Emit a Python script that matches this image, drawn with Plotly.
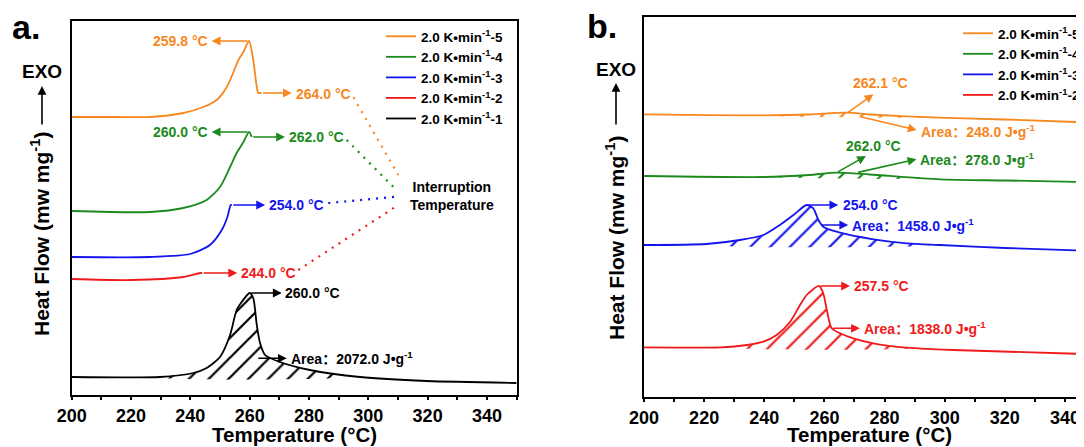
import numpy as np
import plotly.graph_objects as go

FONT = "Liberation Sans, Noto Sans CJK SC, Arial, sans-serif"
C5, C4, C3, C2, C1 = "#F7871E", "#1C8A1C", "#1414EE", "#F01A1A", "#000000"
NAMES = ["2.0 K•min<sup>-1</sup>-5", "2.0 K•min<sup>-1</sup>-4", "2.0 K•min<sup>-1</sup>-3",
         "2.0 K•min<sup>-1</sup>-2", "2.0 K•min<sup>-1</sup>-1"]
XTITLE = "Temperature (°C)"
YTITLE = "Heat Flow (mw mg<sup>-1</sup>)"

# ---------------- panel a (temperature °C, heat flow in arbitrary offset units) -------------
T5a = [200, 215, 226.4, 237.6, 244.4, 248.9, 252.3, 255.1, 256.2, 257.9, 259.8, 261.2, 262.4, 262.9, 264.0]
H5a = [278, 278, 278, 282, 288, 295, 308, 327, 335, 343, 354, 335, 308, 302, 302]
T4a = [200, 226.4, 237.6, 245.5, 250.0, 253.4, 255.6, 257.9, 259.8, 260.7]
H4a = [184, 183, 187, 195, 208, 228, 242, 253, 263, 258]
T3a = [200, 226.4, 239.9, 246.6, 250.6, 252.5, 253.6, 254.0]
H3a = [138, 138, 141, 150, 165, 178, 190, 190]
T2a = [200, 220, 237.6, 243.3, 244.0]
H2a = [116, 115, 118, 122, 122]
T1a = [200, 229.8, 241.0, 245.5, 250.0, 253.4, 255.6, 257.3, 260.0, 261.2, 262.4, 263.5, 265.2,
       270.2, 280.3, 297.2, 319.7, 350]
H1a = [18, 18, 22, 27, 38, 60, 85, 93, 102, 97, 70, 52, 40, 33, 25, 18, 14, 12]
HATCH1a = (232, 16.7, 292, 17.7)   # baseline start T, level, end T, level

# ---------------- panel b ----------------
T5b = [200, 240, 255, 267.4, 275, 298.4, 320, 346.3]
H5b = [282.7, 281.7, 282.5, 284.3, 282.5, 279.3, 277.5, 274.7]
T4b = [200, 240, 255, 264, 275, 298.4, 320, 346.3]
H4b = [221, 220, 222, 224.3, 222.5, 217.7, 216.5, 215]
T3b = [200, 220.8, 231.9, 239.7, 245.2, 249.7, 254.1, 256.3, 258, 259.6, 265.2, 276.3, 287.4, 298.4, 320, 346.3]
H3b = [152, 153, 157, 162, 172, 182, 192, 188.7, 177, 170.3, 164.3, 157.7, 153.7, 152, 149, 146.3]
T2b = [200, 225.3, 234.2, 239.7, 244.1, 248.6, 251.9, 254.1, 258.2, 259.6, 260.8, 262.4, 265.2, 269.6,
       276.3, 286.2, 302.9, 346.3]
H2b = [49.7, 49.7, 52, 55.3, 62, 75.3, 92, 102, 111, 103.7, 87, 68.7, 63.7, 58.7, 53.7, 49.7, 47, 43]
HATCH5b = (240, 281, 296, 279.5)
HATCH4b = (239.6, 219.8, 292, 218.5)
HATCH3b = (225, 151.5, 295, 151.5)
HATCH2b = (231, 49, 288, 48.5)

# labels: (tail T, tail level, head T, head level, text, text T, text level, anchor, colour)
LAB_A = [
    (259.8, 354, 247.2, 354, "259.8 °C", 246.6, 354, "right", C5),
    (264.0, 302, 274.2, 302, "264.0 °C", 275.0, 301, "left", C5),
    (259.8, 263, 247.2, 263, "260.0 °C", 246.6, 263, "right", C4),
    (260.7, 258, 271.9, 258, "262.0 °C", 272.6, 258, "left", C4),
    (254.0, 190, 265.2, 190, "254.0 °C", 265.8, 190, "left", C3),
    (244.0, 122, 255.8, 122, "244.0 °C", 256.4, 122, "left", C2),
    (260.0, 102, 270.8, 102, "260.0 °C", 271.4, 102, "left", C1),
    (262.4, 36.7, 272.5, 36.7, "Area：2072.0 J•g<sup>-1</sup>", 273.2, 37.5, "left", C1),
]
LAB_B = [
    (267.4, 283.5, 276.3, 302.7, "262.1 °C", 278.5, 313.7, "center", C5),
    (271.8, 280.3, 290.7, 267, "Area：248.0 J•g<sup>-1</sup>", 291.3, 266.5, "left", C5),
    (264.0, 224.3, 273.8, 241, "262.0 °C", 276.3, 251, "center", C4),
    (270.7, 224.3, 290.6, 237.7, "Area：278.0 J•g<sup>-1</sup>", 291.1, 238, "left", C4),
    (254.1, 192, 264.6, 192, "254.0 °C", 265.5, 192, "left", C3),
    (258.5, 172, 267.9, 172, "Area：1458.0 J•g<sup>-1</sup>", 268.6, 172, "left", C3),
    (258.2, 111, 268.5, 111, "257.5 °C", 269.3, 111, "left", C2),
    (262.4, 68.7, 271.8, 68.7, "Area：1838.0 J•g<sup>-1</sup>", 272.6, 68.7, "left", C2),
]
# interruption dotted guides: (T0, level0, T1, level1)
GUIDES = [((295.0, 297.7, 310.1, 220.0), C5), ((292.7, 255.0, 308.9, 206.7), C4),
          ((286.5, 192.0, 309.5, 198.3), C3), ((276.4, 125.0, 310.1, 190.0), C2)]

# page geometry (browser body has an 8 px margin)
OFF = 8
W, Hh = 1076, 439


def fx(p):
    return (p - OFF) / W


def fy(p):
    return 1 - (p - OFF) / Hh


fig = go.Figure()
SMOOTH = 0.7


def curve(T, H, color, name, xa, ya, legend):
    fig.add_trace(go.Scatter(x=T, y=H, mode="lines", name=name,
                             line=dict(color=color, width=1.8, shape="spline", smoothing=SMOOTH),
                             xaxis=xa, yaxis=ya, legend=legend, hoverinfo="skip"))


def hatch(T, H, spec, color, xa, ya):
    t0, b0, t1, b1 = spec
    xs = [t0] + [t for t in T if t0 < t < t1] + [t1]
    hs = list(np.interp(xs, T, H))
    xs = xs + [t1, t0, t0]
    hs = hs + [b1, b0, hs[0]]
    fig.add_trace(go.Scatter(x=xs, y=hs, mode="lines", fill="toself", fillcolor="rgba(0,0,0,0)",
                             fillpattern=dict(shape="/", fgcolor=color, bgcolor="rgba(0,0,0,0)",
                                              fgopacity=1, size=14, solidity=0.16),
                             line=dict(width=0, color=color, shape="spline", smoothing=0.4),
                             xaxis=xa, yaxis=ya, showlegend=False, hoverinfo="skip"))


for T, H, c, n in zip([T5a, T4a, T3a, T2a, T1a], [H5a, H4a, H3a, H2a, H1a],
                      [C5, C4, C3, C2, C1], NAMES):
    curve(T, H, c, n, "x", "y", "legend")
for T, H, c, n in zip([T5b, T4b, T3b, T2b], [H5b, H4b, H3b, H2b], [C5, C4, C3, C2], NAMES[:4]):
    curve(T, H, c, n, "x2", "y2", "legend2")

hatch(T1a, H1a, HATCH1a, C1, "x", "y")
hatch(T5b, H5b, HATCH5b, C5, "x2", "y2")
hatch(T4b, H4b, HATCH4b, C4, "x2", "y2")
hatch(T3b, H3b, HATCH3b, C3, "x2", "y2")
hatch(T2b, H2b, HATCH2b, C2, "x2", "y2")

for (t0, l0, t1, l1), c in GUIDES:
    fig.add_trace(go.Scatter(x=[t0, t1], y=[l0, l1], mode="lines",
                             line=dict(color=c, width=2.2, dash="2px,6px"),
                             showlegend=False, hoverinfo="skip", xaxis="x", yaxis="y"))

ann = []


def bold(size, color):
    return dict(family=FONT, size=size, color=color, weight="bold")


for labs, xr, yr in [(LAB_A, "x", "y"), (LAB_B, "x2", "y2")]:
    for (xt, yt, xh, yh, txt, tx, ty, anc, c) in labs:
        ann.append(dict(x=xh, y=yh, ax=xt, ay=yt, xref=xr, yref=yr, axref=xr, ayref=yr, text="",
                        showarrow=True, arrowhead=2, arrowsize=1.1, arrowwidth=1.6, arrowcolor=c,
                        standoff=0, startstandoff=0))
        ann.append(dict(x=tx, y=ty, xref=xr, yref=yr, text=txt, showarrow=False, xanchor=anc,
                        yanchor="middle", font=bold(14, c)))

ann.append(dict(x=328.1, y=199, xref="x", yref="y", text="Interruption<br>Temperature",
                showarrow=False, xanchor="center", yanchor="middle", font=bold(14, "black")))

PANEL = [dict(lab="a.", lab_x=10, lab_y=27, exo_x=42, exo_y=72, arr_x=42, arr_top=86, arr_bot=126,
              tit_x=40, tit_y=234, xt_x=294, xt_y=434),
         dict(lab="b.", lab_x=585, lab_y=26, exo_x=616, exo_y=70, arr_x=616, arr_top=83, arr_bot=126,
              tit_x=615, tit_y=238, xt_x=869, xt_y=434)]
for p in PANEL:
    ann.append(dict(x=fx(p["lab_x"]), y=fy(p["lab_y"]), xref="paper", yref="paper", text=p["lab"],
                    showarrow=False, xanchor="left", yanchor="middle", font=bold(34, "black")))
    ann.append(dict(x=fx(p["exo_x"]), y=fy(p["exo_y"]), xref="paper", yref="paper", text="EXO",
                    showarrow=False, xanchor="center", yanchor="middle", font=bold(19, "black")))
    ann.append(dict(x=fx(p["arr_x"]), y=fy(p["arr_top"]), xref="paper", yref="paper", text="",
                    showarrow=True, ax=0, ay=p["arr_bot"] - p["arr_top"], arrowhead=2, arrowsize=1.1,
                    arrowwidth=1.6, arrowcolor="black", standoff=0, startstandoff=0))
    ann.append(dict(x=fx(p["tit_x"]), y=fy(p["tit_y"]), xref="paper", yref="paper",
                    text=YTITLE, textangle=-90, showarrow=False,
                    xanchor="center", yanchor="middle", font=bold(21, "black")))
    ann.append(dict(x=fx(p["xt_x"]), y=fy(p["xt_y"]), xref="paper", yref="paper",
                    text=XTITLE, showarrow=False,
                    xanchor="center", yanchor="middle", font=bold(20.5, "black")))

xcommon = dict(showline=True, linecolor="black", linewidth=2, mirror=True, ticks="outside", ticklen=3,
               tickwidth=1.5, tickcolor="black", dtick=20, tick0=200, showgrid=False, zeroline=False,
               tickfont=bold(18, "black"),
               minor=dict(dtick=10, tick0=200, ticks="outside", ticklen=3, tickcolor="black", showgrid=False))

fig.update_layout(
    width=W, height=Hh, margin=dict(l=0, r=0, t=0, b=0, autoexpand=False),
    paper_bgcolor="white", plot_bgcolor="white", font=dict(family=FONT),
    xaxis=dict(domain=[fx(71.7), fx(516.6)], range=[200, 350], anchor="y", **xcommon),
    xaxis2=dict(domain=[fx(644), 1.0], range=[200, 200 + (W + OFF - 644) / 3.007], anchor="y2", **xcommon),
    yaxis=dict(domain=[fy(395), fy(21)], range=[0, 374], showline=True, linecolor="black",
               linewidth=2, mirror=True, showticklabels=False, ticks="", showgrid=False, zeroline=False,
               anchor="x"),
    yaxis2=dict(domain=[fy(397), fy(16.7)], range=[0, 380.3], showline=True, linecolor="black",
                linewidth=2, mirror=False, showticklabels=False, ticks="", showgrid=False, zeroline=False,
                anchor="x2"),
    legend=dict(x=fx(381), y=fy(21), xanchor="left", yanchor="top", bgcolor="rgba(0,0,0,0)",
                font=bold(13.5, "black"), itemwidth=30, tracegroupgap=0),
    legend2=dict(x=fx(958), y=fy(18), xanchor="left", yanchor="top", bgcolor="rgba(0,0,0,0)",
                 font=bold(13.5, "black"), itemwidth=30, tracegroupgap=0),
    annotations=ann,
    showlegend=True,
)

fig.write_html("out.html")
